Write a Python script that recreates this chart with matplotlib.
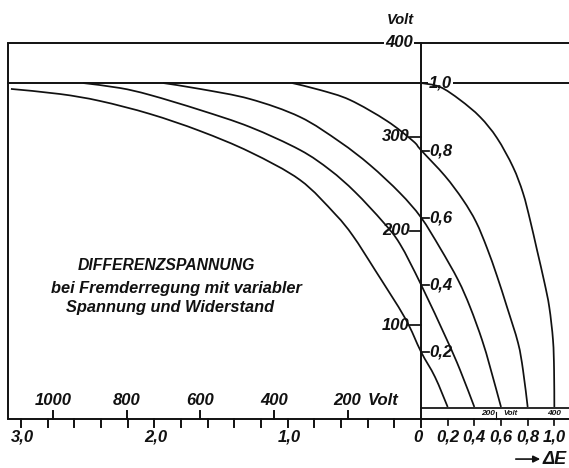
import matplotlib
matplotlib.use("Agg")
import matplotlib.pyplot as plt
from matplotlib.path import Path
from matplotlib.patches import PathPatch

plt.rcParams['font.family'] = ['Liberation Sans', 'DejaVu Sans']

# ---------------- data (x: Delta-E units, negative = left scale; y: Volt) ----------------
level_one_volt = 357.0          # the "1,0" level line
top_volt = 400.0
strip_volt = 11.7               # top of the small volt strip on the right
volt_per_unit_left = 362.7      # left upper Volt scale: volts per Delta-E unit
volt_per_unit_right = 400.0     # right strip Volt scale

curve_names = ['0,2', '0,4', '0,6', '0,8', '1,0']
curve_a_x = [-3.076, -2.708, -2.408, -2.033, -1.658, -1.283, -0.908, -0.645, -0.510, -0.345, -0.120, 0.0, 0.105, 0.2]
curve_a_y = [351.1, 345.7, 338.3, 324.5, 306.4, 284.0, 254.3, 218.1, 194.7, 158.5, 107.4, 71.5, 44.7, 12.8]
curve_b_x = [-2.536, -2.258, -2.033, -1.658, -1.283, -0.908, -0.683, -0.495, -0.285, -0.158, 0.0, 0.195, 0.293, 0.4]
curve_b_y = [357.4, 352.1, 344.7, 328.7, 310.6, 286.2, 264.9, 241.5, 209.6, 186.2, 143.0, 84.0, 52.1, 12.8]
curve_c_x = [-1.935, -1.658, -1.283, -0.908, -0.608, -0.383, -0.158, 0.0, 0.143, 0.278, 0.368, 0.458, 0.518, 0.6]
curve_c_y = [357.4, 351.1, 340.4, 321.3, 294.7, 270.2, 240.4, 214.4, 181.9, 147.9, 119.1, 84.0, 55.3, 12.8]
curve_d_x = [-0.968, -0.758, -0.533, -0.255, -0.060, 0.0, 0.180, 0.315, 0.413, 0.495, 0.570, 0.645, 0.728, 0.765, 0.8]
curve_d_y = [357.4, 350.0, 339.4, 317.0, 295.7, 286.0, 258.5, 233.0, 209.6, 181.9, 152.1, 119.1, 80.9, 52.1, 12.8]
curve_e_x = [0.0, 0.143, 0.293, 0.443, 0.570, 0.690, 0.765, 0.818, 0.870, 0.925, 0.962, 0.990, 0.998, 1.0]
curve_e_y = [357.4, 353.2, 339.4, 321.3, 298.9, 268.1, 240.4, 211.7, 179.8, 145.7, 119.1, 84.0, 52.1, 12.8]

bottom_left_ticks = [0.2, 0.4, 0.6, 0.8, 1.0, 1.2, 1.4, 1.6, 1.8, 2.0, 2.2, 2.4, 2.6, 2.8, 3.0]
bottom_left_labels = {3.0: '3,0', 2.0: '2,0', 1.0: '1,0'}
bottom_right_ticks = [0.0, 0.2, 0.4, 0.6, 0.8, 1.0]
bottom_right_labels = ['0', '0,2', '0,4', '0,6', '0,8', '1,0']
left_volt_values = [1000, 800, 600, 400, 200]
left_volt_labels = ['1000', '800', '600', '400', '200']
axis_volt_values = [100, 200, 300, 400]
axis_volt_labels = ['100', '200', '300', '400']
fraction_values = [0.2, 0.4, 0.6, 0.8, 1.0]
fraction_labels = ['0,2', '0,4', '0,6', '0,8', '1,0']
strip_volt_values = [200, 400]
strip_volt_labels = ['200', '400']

title_lines = ['DIFFERENZSPANNUNG',
               'bei Fremderregung mit variabler',
               'Spannung und Widerstand']


def smooth_path(xs, ys):
    """Catmull-Rom through the read points, rendered by matplotlib as cubic Beziers."""
    pts = list(zip(xs, ys))
    verts = [pts[0]]
    codes = [Path.MOVETO]
    n = len(pts)
    for i in range(n - 1):
        p0 = pts[i - 1] if i > 0 else pts[i]
        p1 = pts[i]
        p2 = pts[i + 1]
        p3 = pts[i + 2] if i + 2 < n else pts[i + 1]
        c1 = (p1[0] + (p2[0] - p0[0]) / 6.0, p1[1] + (p2[1] - p0[1]) / 6.0)
        c2 = (p2[0] - (p3[0] - p1[0]) / 6.0, p2[1] - (p3[1] - p1[1]) / 6.0)
        verts += [c1, c2, p2]
        codes += [Path.CURVE4, Path.CURVE4, Path.CURVE4]
    return Path(verts, codes)


# ---------------- figure ----------------
fig = plt.figure(figsize=(5.69, 4.68), dpi=100)
ax = fig.add_axes([0, 0, 1, 1])
ax.set_xlim(-3.158, 1.110)
ax.set_ylim(-52.1, 445.7)
ax.set_axis_off()

ink = '#111111'
lw_frame = 1.4
lw_curve = 1.25
x_left = -3.098
x_right = 1.110
fs = 12
fstyle = dict(style='italic', weight='bold', color=ink)

# frame lines
ax.plot([x_left, x_left], [0, top_volt], color=ink, lw=lw_frame, solid_capstyle='butt', zorder=2)
ax.plot([x_left, x_right], [top_volt, top_volt], color=ink, lw=lw_frame, zorder=2)
ax.plot([x_left, x_right], [level_one_volt, level_one_volt], color=ink, lw=lw_frame, zorder=2)
ax.plot([x_left, x_right], [0, 0], color=ink, lw=lw_frame, zorder=2)
ax.plot([0, x_right], [strip_volt, strip_volt], color=ink, lw=lw_frame * 0.9, zorder=2)
ax.plot([0, 0], [-8, top_volt], color=ink, lw=lw_frame, zorder=3)

# curves
for cx, cy in [(curve_a_x, curve_a_y), (curve_b_x, curve_b_y), (curve_c_x, curve_c_y),
               (curve_d_x, curve_d_y), (curve_e_x, curve_e_y)]:
    ax.add_patch(PathPatch(smooth_path(cx, cy), fill=False, edgecolor=ink, lw=lw_curve,
                           joinstyle='round', capstyle='butt', zorder=3))

# bottom scale (Delta E) - left side
for t in bottom_left_ticks:
    ax.plot([-t, -t], [0, -8], color=ink, lw=lw_frame)
for t, lab in bottom_left_labels.items():
    ax.text(-t + 0.01, -19.5, lab, ha='center', va='center', fontsize=fs, **fstyle)
# right side
for t, lab in zip(bottom_right_ticks, bottom_right_labels):
    if t > 0:
        ax.plot([t, t], [0, -6], color=ink, lw=lw_frame * 0.9)
    ax.text(t - (0.02 if t == 0 else 0.0), -19.5, lab, ha='center', va='center', fontsize=fs, **fstyle)

# upper-left Volt scale inside frame
for v, lab in zip(left_volt_values, left_volt_labels):
    xv = -v / volt_per_unit_left
    ax.plot([xv, xv], [0, 8], color=ink, lw=lw_frame)
    ax.text(xv, 19.5, lab, ha='center', va='center', fontsize=fs, **fstyle)
ax.text(-200 / volt_per_unit_left + 0.15, 19.5, 'Volt', ha='left', va='center', fontsize=fs, **fstyle)

# right strip Volt scale
for v, lab in zip(strip_volt_values, strip_volt_labels):
    xv = v / volt_per_unit_right
    ax.text(xv, 6.0, lab, ha='center', va='center', fontsize=6, **fstyle)
ax.plot([0.563, 0.563], [0, strip_volt * 0.6], color=ink, lw=0.8)
ax.text(0.67, 6.0, 'Volt', ha='center', va='center', fontsize=5.5, **fstyle)

# vertical axis: Volt (left side of axis)
for v, lab in zip(axis_volt_values, axis_volt_labels):
    if v < top_volt:
        ax.plot([-0.08, 0], [v, v], color=ink, lw=lw_frame * 0.9)
        ax.text(-0.083, v, lab, ha='right', va='center', fontsize=fs, **fstyle)
    else:
        ax.text(-0.06, v, lab, ha='right', va='center', fontsize=fs, zorder=2.5,
                bbox=dict(boxstyle='square,pad=0.05', fc='white', ec='none'), **fstyle)
ax.text(-0.158, 424.5, 'Volt', ha='center', va='center', fontsize=10.5, **fstyle)

# vertical axis: fraction (right side of axis)
for f, lab in zip(fraction_values, fraction_labels):
    yv = f * level_one_volt
    if f < 1.0:
        ax.plot([0, 0.06], [yv, yv], color=ink, lw=lw_frame * 0.9)
        ax.text(0.065, yv, lab, ha='left', va='center', fontsize=fs, **fstyle)
    else:
        ax.text(0.06, yv, lab, ha='left', va='center', fontsize=fs, zorder=2.5,
                bbox=dict(boxstyle='square,pad=0.05', fc='white', ec='none'), **fstyle)

# title block
ax.text(-1.913, 163.0, title_lines[0], ha='center', va='center', fontsize=11.3, **fstyle)
ax.text(-1.838, 138.3, title_lines[1], ha='center', va='center', fontsize=11.8, **fstyle)
ax.text(-1.883, 118.1, title_lines[2], ha='center', va='center', fontsize=11.8, **fstyle)

# Delta E arrow
ax.annotate('', xy=(0.915, -42.6), xytext=(0.69, -42.6),
            arrowprops=dict(arrowstyle='-|>', color=ink, lw=1.2, mutation_scale=10))
ax.text(0.915, -42.6, 'ΔE', ha='left', va='center', fontsize=13, **fstyle)

fig.savefig('out.png', dpi=100, facecolor='white')
